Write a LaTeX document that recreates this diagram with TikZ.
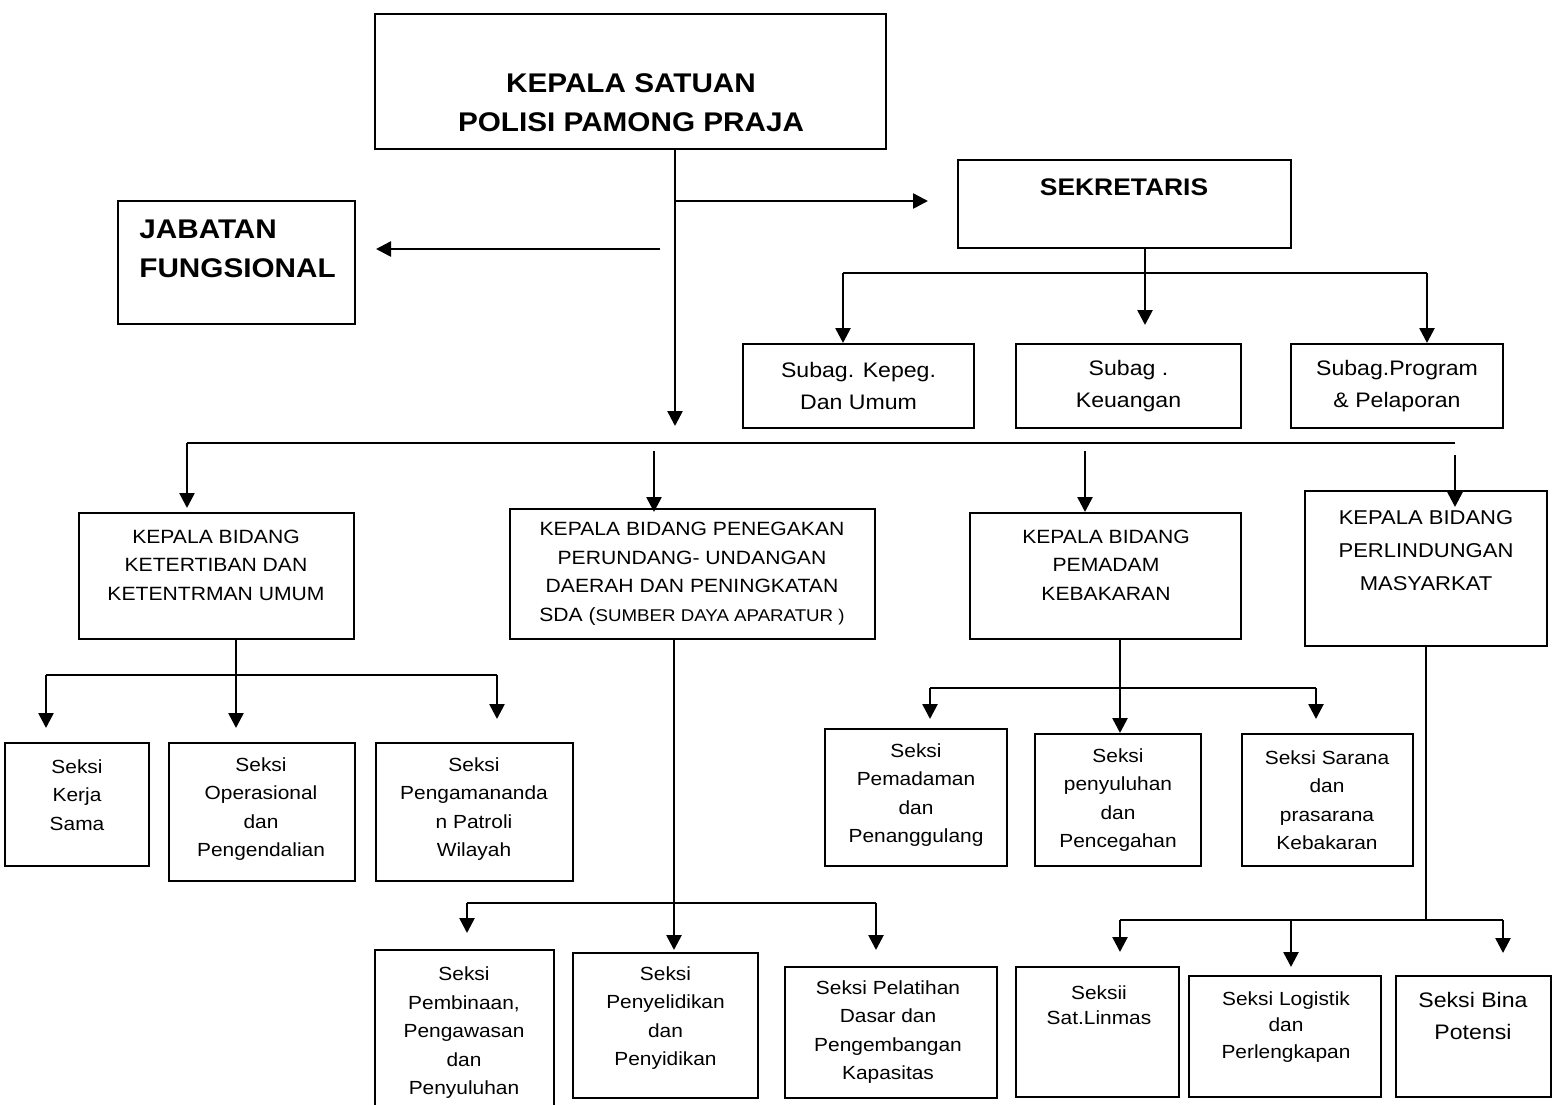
\documentclass[tikz,border=0pt]{standalone}
\usepackage{fontspec}
\setmainfont{Liberation Sans}[FakeStretch=1.1]
\usetikzlibrary{arrows.meta}
\tikzset{
  box/.style={draw, line width=0.9pt, inner sep=0pt, fill=none},
  ln/.style={line width=1.3pt},
  arr/.style={line width=1.3pt, -{Triangle[length=7.5pt,width=7.5pt]}},
  txt/.style={align=center, inner sep=0pt},
  ttlf/.style={font=\bfseries\fontsize{13.5}{19.5}\selectfont},
  sekf/.style={font=\bfseries\fontsize{12}{16}\selectfont},
  subf/.style={font=\fontsize{10.5}{16}\selectfont},
  kbf/.style={font=\fontsize{9.6}{14.25}\selectfont},
  kb4f/.style={font=\fontsize{10}{16.5}\selectfont},
  skf/.style={font=\fontsize{9.5}{14.25}\selectfont},
}
\newcommand\bx[4]{\node[box,minimum width=#3*0.5pt,minimum height=#4*0.5pt] (#1) at (#2) {};}
\begin{document}
\begin{tikzpicture}[x=0.5pt,y=-0.5pt]
\useasboundingbox (0,0) rectangle (1553,1104);
% ---------- boxes ----------
\bx{top}{630.5,81.5}{511}{135}
\bx{jab}{236.5,262.5}{237}{123}
\bx{sek}{1124.5,204}{333}{88}
\bx{sub1}{858.5,386}{231}{84}
\bx{sub2}{1128.5,386}{225}{84}
\bx{sub3}{1397,386}{212}{84}
\bx{kb1}{216.5,576}{275}{126}
\bx{kb2}{692.5,574}{365}{130}
\bx{kb3}{1105.5,576}{271}{126}
\bx{kb4}{1426,568.5}{242}{155}
\bx{s11}{77,804.5}{144}{123}
\bx{s12}{262,812}{186}{138}
\bx{s13}{474.5,812}{197}{138}
\bx{s21}{464.5,1030}{179}{160}
\bx{s22}{665.5,1025.5}{185}{145}
\bx{s23}{891,1032.5}{212}{131}
\bx{s31}{916,797.5}{182}{137}
\bx{s32}{1118,800}{166}{132}
\bx{s33}{1327.5,800}{171}{132}
\bx{s41}{1097.5,1032}{163}{130}
\bx{s42}{1285,1036.5}{192}{121}
\bx{s43}{1473.5,1036.5}{155}{121}
% ---------- texts ----------
\node[txt,ttlf] (top-t) at (631,103) {KEPALA SATUAN\\POLISI PAMONG PRAJA};
\node[txt,ttlf,align=left,anchor=west] (jab-t) at (139,249) {JABATAN\\FUNGSIONAL};
\node[txt,sekf] (sek-t) at (1124,187) {SEKRETARIS};
\node[txt,subf] (sub1-t) at (sub1) {Subag. Kepeg.\\Dan Umum};
\node[txt,subf] (sub2-t) at (sub2) {Subag .\\Keuangan};
\node[txt,subf] (sub3-t) at (sub3) {Subag.Program\\\& Pelaporan};
\node[txt,kbf] (kb1-t) at (216,565) {KEPALA BIDANG\\KETERTIBAN DAN\\KETENTRMAN UMUM};
\node[txt,kbf] (kb2-t) at (692,574) {KEPALA BIDANG PENEGAKAN\\PERUNDANG- UNDANGAN\\DAERAH DAN PENINGKATAN\\SDA ({\fontsize{8.5}{14.25}\selectfont SUMBER DAYA APARATUR )}};
\node[txt,kbf] (kb3-t) at (1106,565) {KEPALA BIDANG\\PEMADAM\\KEBAKARAN};
\node[txt,kb4f] (kb4-t) at (1426,551) {KEPALA BIDANG\\PERLINDUNGAN\\MASYARKAT};
\node[txt,skf] (s11-t) at (77,795) {Seksi\\Kerja\\Sama};
\node[txt,skf] (s12-t) at (261,809) {Seksi\\Operasional\\dan\\Pengendalian};
\node[txt,skf] (s13-t) at (474,809) {Seksi\\Pengamananda\\n Patroli\\Wilayah};
\node[txt,skf] (s21-t) at (464,1033) {Seksi\\Pembinaan,\\Pengawasan\\dan\\Penyuluhan};
\node[txt,skf] (s22-t) at (665.5,1018) {Seksi\\Penyelidikan\\dan\\Penyidikan};
\node[txt,skf] (s23-t) at (888,1032) {Seksi Pelatihan\\Dasar dan\\Pengembangan\\Kapasitas};
\node[txt,skf] (s31-t) at (916,795) {Seksi\\Pemadaman\\dan\\Penanggulang};
\node[txt,skf] (s32-t) at (1118,800) {Seksi\\penyuluhan\\dan\\Pencegahan};
\node[txt,skf] (s33-t) at (1327,800) {Seksi Sarana\\dan\\prasarana\\Kebakaran};
\node[txt,font=\fontsize{9.5}{12.5}\selectfont] (s41-t) at (1099,1005) {Seksii\\Sat.Linmas};
\node[txt,font=\fontsize{9.5}{13.25}\selectfont] (s42-t) at (1286,1027) {Seksi Logistik\\dan\\Perlengkapan};
\node[txt,font=\fontsize{10.5}{16}\selectfont] (s43-t) at (1473,1016) {Seksi Bina\\Potensi};
% ---------- connector points ----------
\coordinate (trunk) at (675,426);
\coordinate (sekin) at (928,201);
\coordinate (jabstart) at (660,249);
\coordinate (jabin) at (376,249);
\coordinate (sekbar) at (1145,273);
\coordinate (sa1) at (843,343);
\coordinate (sa2) at (1145,325);
\coordinate (sa3) at (1427,343);
\coordinate (barL) at (187,443);
\coordinate (barR) at (1455,443);
\coordinate (ka1) at (187,508);
\coordinate (ka2s) at (654,451);
\coordinate (ka2) at (654,512);
\coordinate (ka3s) at (1085,451);
\coordinate (ka3) at (1085,512);
\coordinate (ka4s) at (1455,455);
\coordinate (ka4) at (1455,507);
% KB1 children
\coordinate (b1) at (236,675);
\coordinate (b1a) at (46,728);
\coordinate (b1b) at (236,728);
\coordinate (b1c) at (497,719);
% KB2 children
\coordinate (b2) at (674,903);
\coordinate (b2a) at (467,933);
\coordinate (b2b) at (674,950);
\coordinate (b2c) at (876,950);
% KB3 children
\coordinate (b3) at (1120,688);
\coordinate (b3a) at (930,719);
\coordinate (b3b) at (1120,733);
\coordinate (b3c) at (1316,719);
% KB4 children
\coordinate (b4) at (1426,920);
\coordinate (b4a) at (1120,952);
\coordinate (b4b) at (1291,967);
\coordinate (b4c) at (1503,953);
% ---------- connectors ----------
\draw[arr] (top.south -| trunk) -- (trunk);
\draw[arr] (sekin -| trunk) -- (sekin);
\draw[arr] (jabstart) -- (jabin);
\draw[ln] (sek.south -| sekbar) -- (sekbar);
\draw[ln] (sa1 |- sekbar) -- (sa3 |- sekbar);
\draw[arr] (sa1 |- sekbar) -- (sa1);
\draw[arr] (sekbar) -- (sa2);
\draw[arr] (sa3 |- sekbar) -- (sa3);
\draw[ln] (barL) -- (barR);
\draw[arr] (barL) -- (ka1);
\draw[arr] (ka2s) -- (ka2);
\draw[arr] (ka3s) -- (ka3);
\draw[arr] (ka4s) -- (ka4);
% KB1
\draw[ln] (kb1.south -| b1) -- (b1);
\draw[ln] (b1a |- b1) -- (b1c |- b1);
\draw[arr] (b1a |- b1) -- (b1a);
\draw[arr] (b1) -- (b1b);
\draw[arr] (b1c |- b1) -- (b1c);
% KB2
\draw[ln] (kb2.south -| b2) -- (b2);
\draw[ln] (b2a |- b2) -- (b2c |- b2);
\draw[arr] (b2a |- b2) -- (b2a);
\draw[arr] (b2) -- (b2b);
\draw[arr] (b2c |- b2) -- (b2c);
% KB3
\draw[ln] (kb3.south -| b3) -- (b3);
\draw[ln] (b3a |- b3) -- (b3c |- b3);
\draw[arr] (b3a |- b3) -- (b3a);
\draw[arr] (b3) -- (b3b);
\draw[arr] (b3c |- b3) -- (b3c);
% KB4
\draw[ln] (kb4.south -| b4) -- (b4);
\draw[ln] (b4a |- b4) -- (b4c |- b4);
\draw[arr] (b4a |- b4) -- (b4a);
\draw[arr] (b4b |- b4) -- (b4b);
\draw[arr] (b4c |- b4) -- (b4c);
\end{tikzpicture}
\end{document}
